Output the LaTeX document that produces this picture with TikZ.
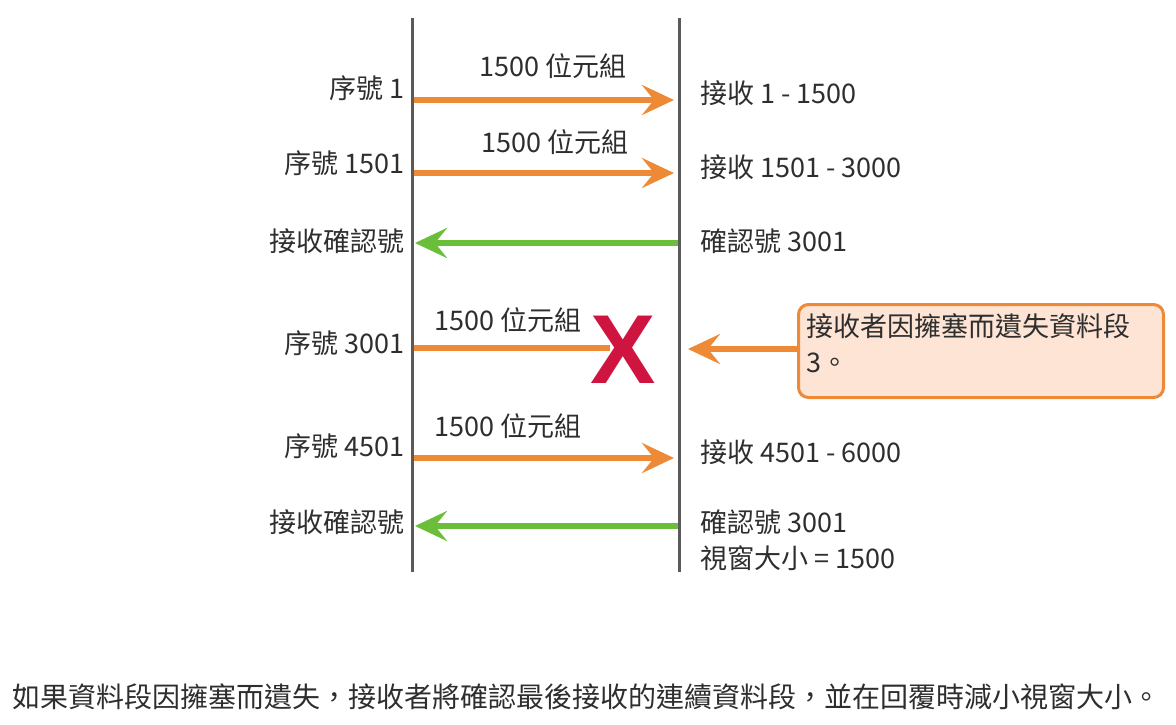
\documentclass[tikz,border=0pt]{standalone}
\usepackage{fontspec}
\setmainfont{Noto Sans CJK TC}
\newfontfamily\xfont{Liberation Sans}
\usetikzlibrary{arrows.meta}
\definecolor{orng}{HTML}{EE8A36}
\definecolor{grn}{HTML}{6BBE3A}
\definecolor{lineg}{HTML}{5A5A5A}
\definecolor{txt}{HTML}{2E2E2E}
\definecolor{boxfill}{HTML}{FDE4D4}
\definecolor{xred}{HTML}{D01440}
\begin{document}
\begin{tikzpicture}[x=1pt,y=-1pt,
  lbl/.style={inner sep=0pt,text=txt,font=\fontsize{27}{32}\selectfont},
  lblL/.style={lbl,anchor=east},
  lblR/.style={lbl,anchor=west},
  pipe/.style={draw=lineg,line width=3pt},
  oarrow/.style={draw=orng,line width=6pt,-{Stealth[length=32pt,width=30pt,inset=12pt]}},
  garrow/.style={draw=grn,line width=6pt,-{Stealth[length=32pt,width=30pt,inset=12pt]}}
]
\useasboundingbox (0,0) rectangle (1176,724);
% vertical lines
\coordinate (lt) at (412,18); \coordinate (lb) at (412,572);
\coordinate (rt) at (679,18); \coordinate (rb) at (679,572);
\draw[pipe] (lt) -- (lb);
\draw[pipe] (rt) -- (rb);
% arrow endpoints
\coordinate (a1s) at (414,100); \coordinate (a1e) at (674,100);
\coordinate (a2s) at (414,173); \coordinate (a2e) at (674,173);
\coordinate (g1s) at (678,243); \coordinate (g1e) at (415,243);
\coordinate (a3s) at (414,348); \coordinate (a3e) at (610,348);
\coordinate (a4s) at (414,458); \coordinate (a4e) at (674,458);
\coordinate (g2s) at (678,526); \coordinate (g2e) at (415,526);
% row 1
\node[lblL] (s1) at (405,88) {序號 1};
\node[lbl] (b1) at (553,66) {1500 位元組};
\node[lblR] (r1) at (700,93) {接收 1 - 1500};
\draw[oarrow] (a1s) -- (a1e);
% row 2
\node[lblL] (s2) at (405,163) {序號 1501};
\node[lbl] (b2) at (555,142) {1500 位元組};
\node[lblR] (r2) at (700,167) {接收 1501 - 3000};
\draw[oarrow] (a2s) -- (a2e);
% ack 1
\node[lblL] (k1) at (405,241) {接收確認號};
\node[lblR] (c1) at (700,241) {確認號 3001};
\draw[garrow] (g1s) -- (g1e);
% row 3 lost
\node[lblR] (b3) at (434,320) {1500 位元組};
\node[lblL] (s3) at (405,343) {序號 3001};
\draw[draw=orng,line width=6pt] (a3s) -- (a3e);
\node[inner sep=0pt,text=xred,font=\xfont\bfseries\fontsize{98}{98}\selectfont] (xx) at (623,350) {X};
% callout
\node[draw=orng,line width=3pt,fill=boxfill,rounded corners=10pt,minimum width=365pt,minimum height=93pt,anchor=north west,inner sep=0pt] (box) at (797,303) {};
\node[lblR,anchor=north west,align=left,font=\fontsize{27}{36}\selectfont] (bt) at (806,313) {接收者因擁塞而遺失資料段\\3。};
\coordinate (ct) at (688,349);
\draw[oarrow] (box.west |- ct) -- (ct);
% row 4
\node[lblR] (b4) at (434,426) {1500 位元組};
\node[lblL] (s4) at (405,446) {序號 4501};
\node[lblR] (r4) at (700,452) {接收 4501 - 6000};
\draw[oarrow] (a4s) -- (a4e);
% ack 2
\node[lblL] (k2) at (405,522) {接收確認號};
\node[lblR] (c2) at (700,522) {確認號 3001};
\node[lblR] (w2) at (700,558) {視窗大小 = 1500};
\draw[garrow] (g2s) -- (g2e);
% caption
\node[lblR,font=\fontsize{28}{32}\selectfont] (cap) at (12,697) {如果資料段因擁塞而遺失，接收者將確認最後接收的連續資料段，並在回覆時減小視窗大小。};
\end{tikzpicture}
\end{document}
